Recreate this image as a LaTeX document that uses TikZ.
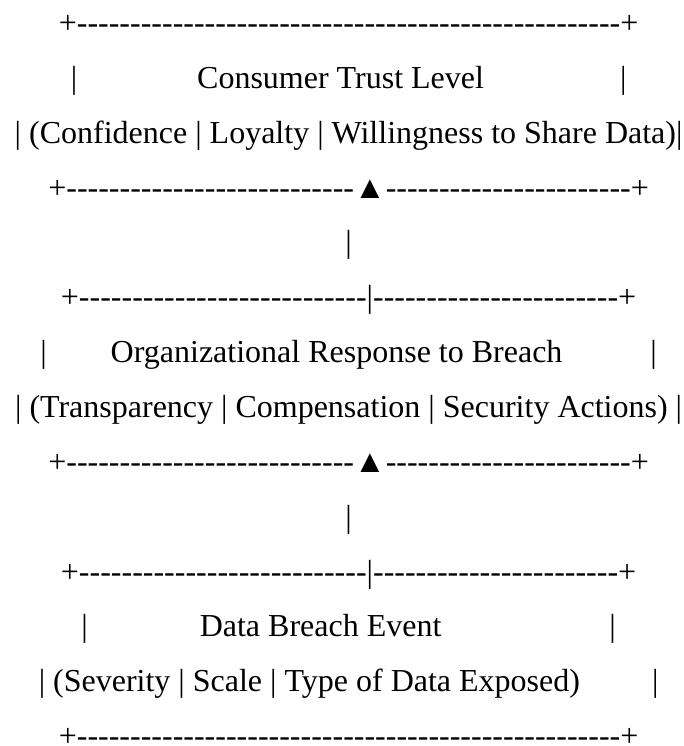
\documentclass[tikz,border=0pt]{standalone}
\usepackage{fontspec}
% plain hyphens must stay hyphens, so TeX ligatures are switched off
\setmainfont{Liberation Serif}[Ligatures=TeXOff]
\ExplSyntaxOn
\NewDocumentCommand\rep{mm}{\prg_replicate:nn{#1}{#2}}
\ExplSyntaxOff
\newcommand\blanks[1]{\rep{#1}{\ }}
\tikzset{
  asciiline/.style={anchor=base, inner sep=0pt, outer sep=0pt,
    font=\fontsize{32}{32}\selectfont, text=black},
}
\begin{document}
\begin{tikzpicture}[x=1pt,y=-1pt]
\useasboundingbox (0,0) rectangle (683,746);
\def\cx{348.6}
% top box: consumer trust
\node[asciiline] (t1) at (\cx,33.5)   {+\rep{51}{-}+};
\node[asciiline] (t2) at (\cx,88.35)  {|\blanks{15}Consumer Trust Level\blanks{17}|};
\node[asciiline] (t3) at (\cx,143.2)  {| (Confidence | Loyalty | Willingness to Share Data)|};
\node[asciiline] (t4) at (\cx,198.05) {+\rep{27}{-}▲\rep{23}{-}+};
% link
\node[asciiline] (l1) at (\cx,252.9)  {|};
% middle box: organisational response
\node[asciiline] (m1) at (\cx,307.75) {+\rep{27}{-}|\rep{23}{-}+};
\node[asciiline] (m2) at (\cx,362.6)  {|\blanks{8}Organizational Response to Breach\blanks{11}|};
\node[asciiline] (m3) at (\cx,417.45) {| (Transparency | Compensation | Security Actions) |};
\node[asciiline] (m4) at (\cx,472.3)  {+\rep{27}{-}▲\rep{23}{-}+};
% link
\node[asciiline] (l2) at (\cx,527.15) {|};
% bottom box: breach event
\node[asciiline] (b1) at (\cx,582.0)  {+\rep{27}{-}|\rep{23}{-}+};
\node[asciiline] (b2) at (\cx,636.85) {|\blanks{14}Data Breach Event\blanks{21}|};
\node[asciiline] (b3) at (\cx,691.7)  {| (Severity | Scale | Type of Data Exposed)\blanks{9}|};
\node[asciiline] (b4) at (\cx,746.0)  {+\rep{51}{-}+};
\end{tikzpicture}
\end{document}
